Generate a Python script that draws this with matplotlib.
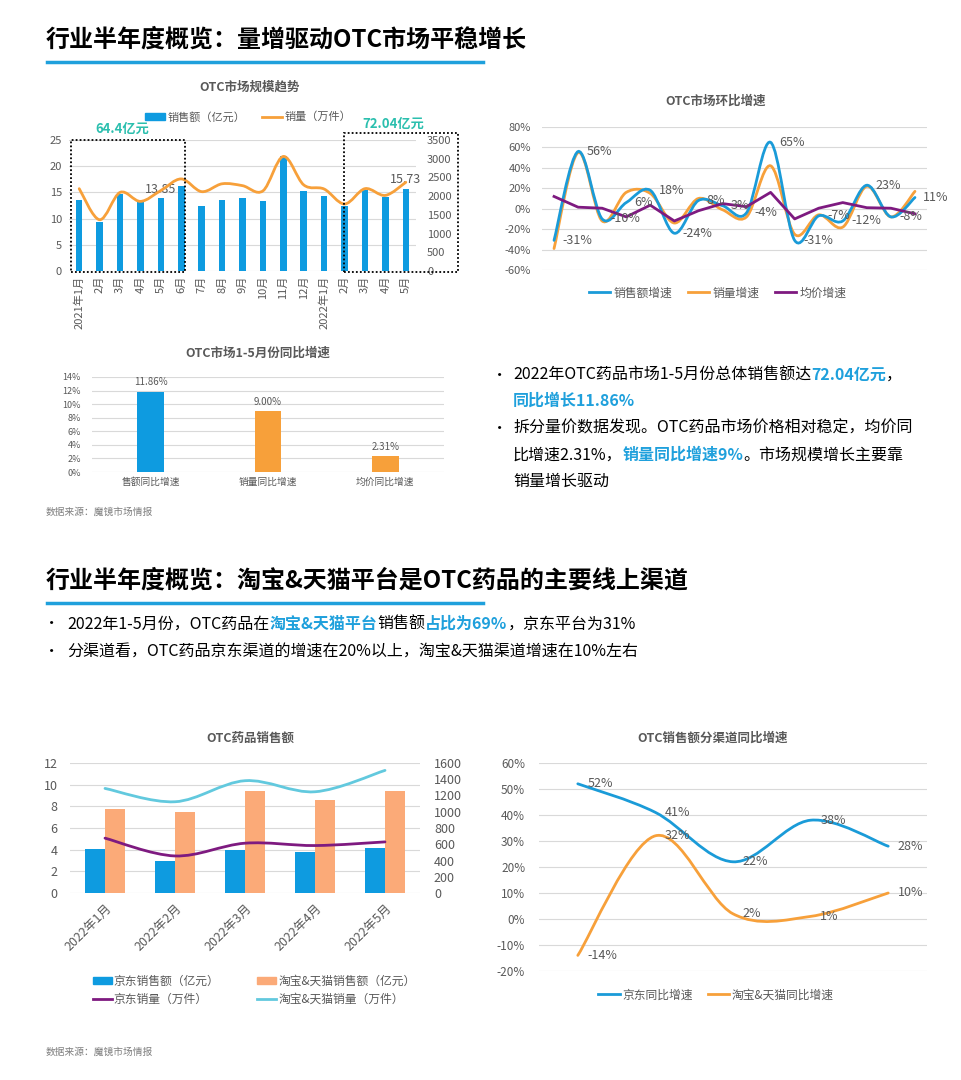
import numpy as np
import matplotlib
matplotlib.use("Agg")
import matplotlib.pyplot as plt
from matplotlib.path import Path
from matplotlib.patches import PathPatch, Patch, Rectangle
from matplotlib.lines import Line2D

plt.rcParams["font.family"] = ["Noto Sans CJK SC", "DejaVu Sans"]
plt.rcParams["axes.unicode_minus"] = False

# ── data ──────────────────────────────────────────────────────────────────────
months_1 = ["2021年1月", "2月", "3月", "4月", "5月", "6月", "7月", "8月", "9月",
            "10月", "11月", "12月", "2022年1月", "2月", "3月", "4月", "5月"]
sales_1 = [13.5, 9.35, 14.6, 13.1, 13.85, 16.3, 12.4, 13.5, 13.9, 13.3, 21.9,
           15.2, 14.3, 12.5, 15.4, 14.1, 15.73]
volume_1 = [2200, 1370, 2100, 1860, 2150, 2460, 2120, 2330, 2280, 2140, 3060,
            2300, 2190, 1790, 2200, 2020, 2370]

mom_sales = [-31, 56, -10, 6, 18, -24, 8, 3, -4, 65, -31, -7, -12, 23, -8, 11]
mom_volume = [-39, 55, -12, 16, 15, -14, 10, -1, -8, 42, -25, -6, -18, 22, -8, 17]
mom_price = [12, 1.5, 0.5, -8, 3.5, -12, -2, 5, 2, 16, -10, 0.5, 6, 1, 0.5, -5]

yoy_cats = ["售额同比增速", "销量同比增速", "均价同比增速"]
yoy_vals = [11.86, 9.00, 2.31]

months_2 = ["2022年1月", "2022年2月", "2022年3月", "2022年4月", "2022年5月"]
jd_sales = [4.1, 2.96, 4.0, 3.77, 4.17]
tb_sales = [7.75, 7.47, 9.44, 8.6, 9.41]
jd_volume = [675, 456, 613, 584, 629]
tb_volume = [1287, 1123, 1382, 1246, 1509]

jd_yoy = [52, 41, 22, 38, 28]
tb_yoy = [-14, 32, 2, 1, 10]

# ── colours ───────────────────────────────────────────────────────────────────
BLUE = "#1A9BD8"
BAR_BLUE = "#0E9BE0"
ORANGE = "#F7A03A"
PURPLE = "#7E1A80"
LIGHT_BLUE = "#62C9DE"
SALMON = "#FBAA78"
TEAL = "#2BBFAE"
GREY = "#595959"
GRID = "#D9D9D9"
HL = "#1FA0DC"

W, H = 961, 1080
fig = plt.figure(figsize=(W / 100, H / 100), dpi=100)


def fx(x):
    return x / W


def fy(y):
    return 1 - y / H


def add_ax(x0, y0, x1, y1):
    return fig.add_axes([fx(x0), fy(y1), (x1 - x0) / W, (y1 - y0) / H])


def style(ax, size=8):
    for s in ax.spines.values():
        s.set_visible(False)
    ax.grid(axis="y", color=GRID, lw=0.8)
    ax.set_axisbelow(True)
    ax.tick_params(length=0, labelcolor=GREY, labelsize=size)


def smooth(ax, xs, ys, color, lw=2.0, zorder=3):
    # Catmull-Rom style bezier through the points (like Excel smoothed lines)
    p = np.column_stack([xs, ys]).astype(float)
    ext = np.vstack([p[0], p, p[-1]])
    verts = [tuple(p[0])]
    codes = [Path.MOVETO]
    for i in range(len(p) - 1):
        p0, p1, p2, p3 = ext[i], ext[i + 1], ext[i + 2], ext[i + 3]
        c1 = p1 + (p2 - p0) / 6
        c2 = p2 - (p3 - p1) / 6
        verts += [tuple(c1), tuple(c2), tuple(p2)]
        codes += [Path.CURVE4] * 3
    ax.add_patch(PathPatch(Path(verts, codes), fill=False, edgecolor=color,
                           lw=lw, capstyle="round", zorder=zorder))


def rich(x, y, parts, size=11.5):
    r = fig.canvas.get_renderer()
    cx = x
    for s, c, w in parts:
        t = fig.text(fx(cx), fy(y), s, color=c, fontweight=w, fontsize=size,
                     ha="left", va="center")
        cx += t.get_window_extent(renderer=r).width


def heading(y, text, line_y):
    fig.text(fx(46), fy(y), text, fontsize=17.3, fontweight="bold", color="black",
             ha="left", va="center")
    fig.add_artist(Line2D([fx(47), fx(483)], [fy(line_y), fy(line_y)],
                          color=HL, lw=2.5))


def chart_title(x, y, text):
    fig.text(fx(x), fy(y), text, fontsize=9, fontweight="bold", color=GREY,
             ha="center", va="center")


# ── headings ──────────────────────────────────────────────────────────────────
heading(40, "行业半年度概览：量增驱动OTC市场平稳增长", 62)
heading(580, "行业半年度概览：淘宝&天猫平台是OTC药品的主要线上渠道", 603)

# ── chart 1: OTC市场规模趋势 ──────────────────────────────────────────────────
chart_title(250, 87, "OTC市场规模趋势")
ax1 = add_ax(69, 140, 416, 271)
style(ax1)
x1 = np.arange(len(sales_1))
ax1.bar(x1, sales_1, width=0.32, color=BAR_BLUE, zorder=2)
ax1.set_xlim(-0.5, len(sales_1) - 0.5)
ax1.set_ylim(0, 25)
ax1.set_yticks(range(0, 26, 5))
ax1.set_xticks(x1)
ax1.set_xticklabels(months_1, rotation=90, fontsize=8)
ax1.tick_params(axis="y", pad=5)
for i in (4, 16):
    ax1.annotate(f"{sales_1[i]:.2f}", (x1[i], sales_1[i]), xytext=(0, 2),
                 textcoords="offset points", ha="center", va="bottom",
                 fontsize=9, color=GREY)
ax1b = ax1.twinx()
style(ax1b)
ax1b.grid(False)
ax1b.set_ylim(0, 3500)
ax1b.set_yticks(range(0, 3501, 500))
ax1b.tick_params(axis="y", pad=8)
smooth(ax1b, x1, volume_1, ORANGE, lw=2)
ax1.legend([Patch(color=BAR_BLUE), Line2D([], [], color=ORANGE, lw=2)],
           ["销售额（亿元）", "销量（万件）"], ncol=2, frameon=False,
           loc="center", bbox_to_anchor=(fx(248), fy(117)),
           bbox_transform=fig.transFigure, fontsize=8, labelcolor=GREY,
           handlelength=1.8, handleheight=0.6, handletextpad=0.2,
           columnspacing=1.5)
for (bx0, by0, bx1, by1) in [(71, 140, 185, 272), (344, 133, 458, 272)]:
    fig.add_artist(Rectangle((fx(bx0), fy(by1)), (bx1 - bx0) / W, (by1 - by0) / H,
                             fill=False, ec="black", lw=1.3,
                             ls=(0, (1, 1.2)), transform=fig.transFigure))
fig.text(fx(122), fy(129), "64.4亿元", color=TEAL, fontsize=9.5,
         fontweight="bold", ha="center", va="center")
fig.text(fx(393), fy(124), "72.04亿元", color=TEAL, fontsize=9.5,
         fontweight="bold", ha="center", va="center")

# ── chart 2: OTC市场环比增速 ──────────────────────────────────────────────────
chart_title(716, 101, "OTC市场环比增速")
ax2 = add_ax(542, 127, 927, 270)
style(ax2)
x2 = np.arange(len(mom_sales))
ax2.set_xlim(-0.5, len(mom_sales) - 0.5)
ax2.set_ylim(-60, 80)
ax2.set_yticks(range(-60, 81, 20))
ax2.set_yticklabels([f"{v}%" for v in range(-60, 81, 20)])
ax2.set_xticks([])
ax2.tick_params(axis="y", pad=8)
smooth(ax2, x2, mom_sales, BLUE, lw=2, zorder=4)
smooth(ax2, x2, mom_volume, ORANGE, lw=2, zorder=3)
ax2.plot(x2, mom_price, color=PURPLE, lw=2, zorder=5)
for i, v in enumerate(mom_sales):
    ax2.annotate(f"{v}%", (x2[i], v), xytext=(6, 0), textcoords="offset points",
                 ha="left", va="center", fontsize=9, color=GREY, zorder=6)
ax2.legend([Line2D([], [], color=c, lw=2) for c in (BLUE, ORANGE, PURPLE)],
           ["销售额增速", "销量增速", "均价增速"], ncol=3, frameon=False,
           loc="center", bbox_to_anchor=(fx(718), fy(293)),
           bbox_transform=fig.transFigure, fontsize=8.5, labelcolor=GREY,
           handlelength=1.8, handletextpad=0.3, columnspacing=1.3)

# ── chart 3: OTC市场1-5月份同比增速 ───────────────────────────────────────────
chart_title(258, 353, "OTC市场1-5月份同比增速")
ax3 = add_ax(92, 377, 444, 472)
style(ax3, size=6.5)
x3 = np.arange(len(yoy_vals))
ax3.bar(x3, yoy_vals, width=0.23, color=[BAR_BLUE, ORANGE, ORANGE], zorder=2)
ax3.set_xlim(-0.5, 2.5)
ax3.set_ylim(0, 14)
ax3.set_yticks(range(0, 15, 2))
ax3.set_yticklabels([f"{v}%" for v in range(0, 15, 2)])
ax3.set_xticks(x3)
ax3.set_xticklabels(yoy_cats, fontsize=7)
ax3.tick_params(axis="y", pad=8)
for i, v in enumerate(yoy_vals):
    ax3.annotate(f"{v:.2f}%", (x3[i], v), xytext=(0, 3), textcoords="offset points",
                 ha="center", va="bottom", fontsize=7, color=GREY)
fig.text(fx(46), fy(512), "数据来源：魔镜市场情报", fontsize=7, color="#7F7F7F",
         ha="left", va="center")

# ── bullets (top right) ───────────────────────────────────────────────────────
fig.text(fx(492), fy(375), "•", fontsize=11, color="black", va="center")
rich(513, 375, [("2022年OTC药品市场1-5月份总体销售额达", "black", "normal"),
                ("72.04亿元", HL, "bold"), ("，", "black", "normal")])
rich(513, 401, [("同比增长11.86%", HL, "bold")])
fig.text(fx(492), fy(428), "•", fontsize=11, color="black", va="center")
rich(513, 428, [("拆分量价数据发现。OTC药品市场价格相对稳定，均价同", "black", "normal")])
rich(513, 455, [("比增速2.31%，", "black", "normal"), ("销量同比增速9%", HL, "bold"),
                ("。市场规模增长主要靠", "black", "normal")])
rich(513, 481, [("销量增长驱动", "black", "normal")])

# ── bullets (section 2) ───────────────────────────────────────────────────────
fig.text(fx(44), fy(624), "•", fontsize=11, color="black", va="center")
rich(67, 624, [("2022年1-5月份，OTC药品在", "black", "normal"),
               ("淘宝&天猫平台", HL, "bold"), ("销售额", "black", "normal"),
               ("占比为69%", HL, "bold"), ("，京东平台为31%", "black", "normal")])
fig.text(fx(44), fy(651), "•", fontsize=11, color="black", va="center")
rich(67, 651, [("分渠道看，OTC药品京东渠道的增速在20%以上，淘宝&天猫渠道增速在10%左右",
                "black", "normal")])

# ── chart 4: OTC药品销售额 ────────────────────────────────────────────────────
chart_title(250, 738, "OTC药品销售额")
ax4 = add_ax(70, 763, 420, 893)
style(ax4, size=9)
x4 = np.arange(len(months_2))
bw = 0.286
ax4.bar(x4 - bw / 2, jd_sales, width=bw, color=BAR_BLUE, zorder=2)
ax4.bar(x4 + bw / 2, tb_sales, width=bw, color=SALMON, zorder=2)
ax4.set_xlim(-0.5, len(months_2) - 0.5)
ax4.set_ylim(0, 12)
ax4.set_yticks(range(0, 13, 2))
ax4.set_xticks(x4)
ax4.set_xticklabels(months_2, rotation=45, ha="right", va="top",
                    rotation_mode="anchor", fontsize=9)
ax4.tick_params(axis="y", pad=9)
ax4.tick_params(axis="x", pad=6)
ax4b = ax4.twinx()
style(ax4b, size=9)
ax4b.grid(False)
ax4b.set_ylim(0, 1600)
ax4b.set_yticks(range(0, 1601, 200))
ax4b.tick_params(axis="y", pad=10)
smooth(ax4b, x4, jd_volume, PURPLE, lw=2)
smooth(ax4b, x4, tb_volume, LIGHT_BLUE, lw=2)
ax4.legend([Patch(color=BAR_BLUE), Line2D([], [], color=PURPLE, lw=2),
            Patch(color=SALMON), Line2D([], [], color=LIGHT_BLUE, lw=2)],
           ["京东销售额（亿元）", "京东销量（万件）",
            "淘宝&天猫销售额（亿元）", "淘宝&天猫销量（万件）"],
           ncol=2, frameon=False, loc="upper left",
           bbox_to_anchor=(fx(82), fy(964)), bbox_transform=fig.transFigure,
           fontsize=8.5, labelcolor=GREY, handlelength=1.6, handleheight=0.6,
           handletextpad=0.2, columnspacing=3.2, labelspacing=0.45)
fig.text(fx(46), fy(1052), "数据来源：魔镜市场情报", fontsize=7, color="#7F7F7F",
         ha="left", va="center")

# ── chart 5: OTC销售额分渠道同比增速 ──────────────────────────────────────────
chart_title(713, 738, "OTC销售额分渠道同比增速")
ax5 = add_ax(539, 763, 927, 971)
style(ax5, size=8.5)
x5 = np.arange(len(jd_yoy))
ax5.set_xlim(-0.5, len(jd_yoy) - 0.5)
ax5.set_ylim(-20, 60)
ax5.set_yticks(range(-20, 61, 10))
ax5.set_yticklabels([f"{v}%" for v in range(-20, 61, 10)])
ax5.set_xticks([])
ax5.tick_params(axis="y", pad=10)
smooth(ax5, x5, jd_yoy, BLUE, lw=2)
smooth(ax5, x5, tb_yoy, ORANGE, lw=2)
for vals in (jd_yoy, tb_yoy):
    for i, v in enumerate(vals):
        ax5.annotate(f"{v}%", (x5[i], v), xytext=(7, 0), textcoords="offset points",
                     ha="left", va="center", fontsize=9, color=GREY, zorder=6)
ax5.legend([Line2D([], [], color=c, lw=2) for c in (BLUE, ORANGE)],
           ["京东同比增速", "淘宝&天猫同比增速"], ncol=2, frameon=False,
           loc="center", bbox_to_anchor=(fx(716), fy(995)),
           bbox_transform=fig.transFigure, fontsize=8.5, labelcolor=GREY,
           handlelength=1.8, handletextpad=0.2, columnspacing=1.3)

fig.savefig("out.png", dpi=100, facecolor="white")
